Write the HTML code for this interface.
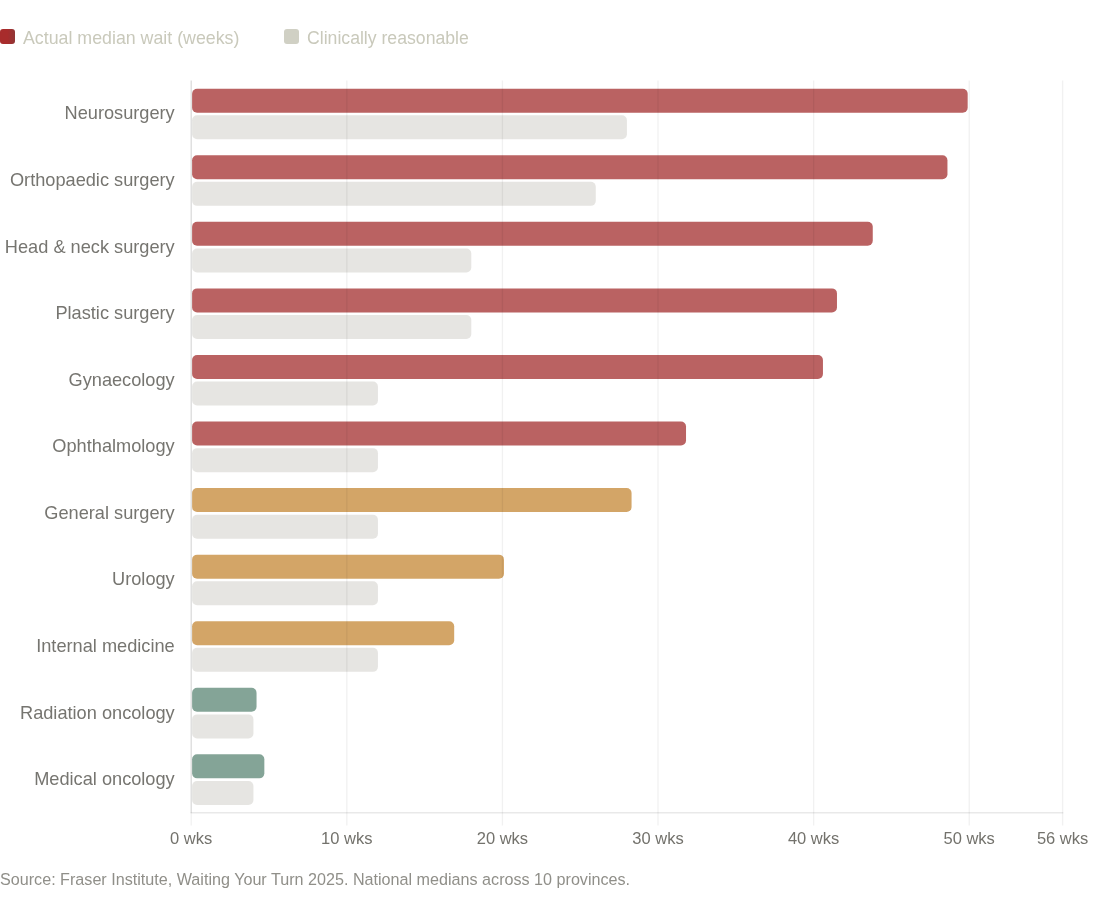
<!DOCTYPE html>
<html><head><meta charset="utf-8"><title>Wait times</title>
<style>
html,body{margin:0;padding:0;background:#fff;}
body{width:1093px;height:900px;position:relative;overflow:hidden;font-family:"Liberation Sans",Arial,sans-serif;}
svg{position:absolute;left:0;top:0;}
.lab{position:absolute;right:918.3px;white-space:nowrap;font-size:18.2px;color:#767570;line-height:20px;text-align:right;}
.tick{position:absolute;font-size:16.5px;color:#73726c;line-height:20px;white-space:nowrap;transform:translateX(-50%);top:828px;}
.leg{position:absolute;top:27px;font-size:17.8px;line-height:22px;color:#c9c9bb;white-space:nowrap;}
.sw{position:absolute;top:29px;width:15px;height:15px;border-radius:3px;}
.src{position:absolute;left:0;top:869px;font-size:16.15px;line-height:20px;color:#908f89;white-space:nowrap;}
</style></head><body>

<svg width="1093" height="900" viewBox="0 0 1093 900">
<rect x="192.10" y="88.67" width="775.58" height="24.00" rx="5" ry="5" fill="rgba(163,46,46,0.75)"/>
<rect x="192.10" y="115.30" width="434.80" height="24.00" rx="5" ry="5" fill="rgba(205,203,197,0.5)"/>
<rect x="192.10" y="155.24" width="755.35" height="24.00" rx="5" ry="5" fill="rgba(163,46,46,0.75)"/>
<rect x="192.10" y="181.87" width="403.68" height="24.00" rx="5" ry="5" fill="rgba(205,203,197,0.5)"/>
<rect x="192.10" y="221.81" width="680.66" height="24.00" rx="5" ry="5" fill="rgba(163,46,46,0.75)"/>
<rect x="192.10" y="248.43" width="279.19" height="24.00" rx="5" ry="5" fill="rgba(205,203,197,0.5)"/>
<rect x="192.10" y="288.38" width="644.87" height="24.00" rx="5" ry="5" fill="rgba(163,46,46,0.75)"/>
<rect x="192.10" y="315.00" width="279.19" height="24.00" rx="5" ry="5" fill="rgba(205,203,197,0.5)"/>
<rect x="192.10" y="354.94" width="630.86" height="24.00" rx="5" ry="5" fill="rgba(163,46,46,0.75)"/>
<rect x="192.10" y="381.57" width="185.83" height="24.00" rx="5" ry="5" fill="rgba(205,203,197,0.5)"/>
<rect x="192.10" y="421.51" width="493.93" height="24.00" rx="5" ry="5" fill="rgba(163,46,46,0.75)"/>
<rect x="192.10" y="448.14" width="185.83" height="24.00" rx="5" ry="5" fill="rgba(205,203,197,0.5)"/>
<rect x="192.10" y="488.08" width="439.47" height="24.00" rx="5" ry="5" fill="rgba(196,135,52,0.75)"/>
<rect x="192.10" y="514.71" width="185.83" height="24.00" rx="5" ry="5" fill="rgba(205,203,197,0.5)"/>
<rect x="192.10" y="554.65" width="311.87" height="24.00" rx="5" ry="5" fill="rgba(196,135,52,0.75)"/>
<rect x="192.10" y="581.28" width="185.83" height="24.00" rx="5" ry="5" fill="rgba(205,203,197,0.5)"/>
<rect x="192.10" y="621.22" width="262.08" height="24.00" rx="5" ry="5" fill="rgba(196,135,52,0.75)"/>
<rect x="192.10" y="647.84" width="185.83" height="24.00" rx="5" ry="5" fill="rgba(205,203,197,0.5)"/>
<rect x="192.10" y="687.78" width="64.45" height="24.00" rx="5" ry="5" fill="rgba(91,134,116,0.75)"/>
<rect x="192.10" y="714.41" width="61.34" height="24.00" rx="5" ry="5" fill="rgba(205,203,197,0.5)"/>
<rect x="192.10" y="754.35" width="72.24" height="24.00" rx="5" ry="5" fill="rgba(91,134,116,0.75)"/>
<rect x="192.10" y="780.98" width="61.34" height="24.00" rx="5" ry="5" fill="rgba(205,203,197,0.5)"/>
<line x1="191.20" y1="80.50" x2="191.20" y2="825.55" stroke="rgba(0,0,0,0.055)" stroke-width="1.38"/>
<line x1="346.81" y1="80.50" x2="346.81" y2="825.55" stroke="rgba(0,0,0,0.055)" stroke-width="1.38"/>
<line x1="502.41" y1="80.50" x2="502.41" y2="825.55" stroke="rgba(0,0,0,0.055)" stroke-width="1.38"/>
<line x1="658.02" y1="80.50" x2="658.02" y2="825.55" stroke="rgba(0,0,0,0.055)" stroke-width="1.38"/>
<line x1="813.63" y1="80.50" x2="813.63" y2="825.55" stroke="rgba(0,0,0,0.055)" stroke-width="1.38"/>
<line x1="969.24" y1="80.50" x2="969.24" y2="825.55" stroke="rgba(0,0,0,0.055)" stroke-width="1.38"/>
<line x1="1062.60" y1="80.50" x2="1062.60" y2="825.55" stroke="rgba(0,0,0,0.055)" stroke-width="1.38"/>
<line x1="191.20" y1="80.50" x2="191.20" y2="812.75" stroke="rgba(0,0,0,0.085)" stroke-width="1.38"/>
<line x1="190.51" y1="812.75" x2="1063.29" y2="812.75" stroke="rgba(0,0,0,0.085)" stroke-width="1.38"/>
</svg>
<div class="sw" style="left:0;background:linear-gradient(90deg,#a82c2c 0%,#a82c2c 50%,#903636 100%)"></div><div class="leg" style="left:23px">Actual median wait (weeks)</div>
<div class="sw" style="left:284px;background:#d0d0c4"></div><div class="leg" style="left:307px;font-size:17.65px">Clinically reasonable</div>
<div class="lab" style="top:103.4px">Neurosurgery</div>
<div class="lab" style="top:170.0px">Orthopaedic surgery</div>
<div class="lab" style="top:236.5px">Head &amp; neck surgery</div>
<div class="lab" style="top:303.1px">Plastic surgery</div>
<div class="lab" style="top:369.7px">Gynaecology</div>
<div class="lab" style="top:436.2px">Ophthalmology</div>
<div class="lab" style="top:502.8px">General surgery</div>
<div class="lab" style="top:569.4px">Urology</div>
<div class="lab" style="top:635.9px">Internal medicine</div>
<div class="lab" style="top:702.5px">Radiation oncology</div>
<div class="lab" style="top:769.1px">Medical oncology</div>
<div class="tick" style="left:191.2px">0 wks</div>
<div class="tick" style="left:346.8px">10 wks</div>
<div class="tick" style="left:502.4px">20 wks</div>
<div class="tick" style="left:658.0px">30 wks</div>
<div class="tick" style="left:813.6px">40 wks</div>
<div class="tick" style="left:969.2px">50 wks</div>
<div class="tick" style="left:1062.6px">56 wks</div>
<div class="src">Source: Fraser Institute, Waiting Your Turn 2025. National medians across 10 provinces.</div>
</body></html>
